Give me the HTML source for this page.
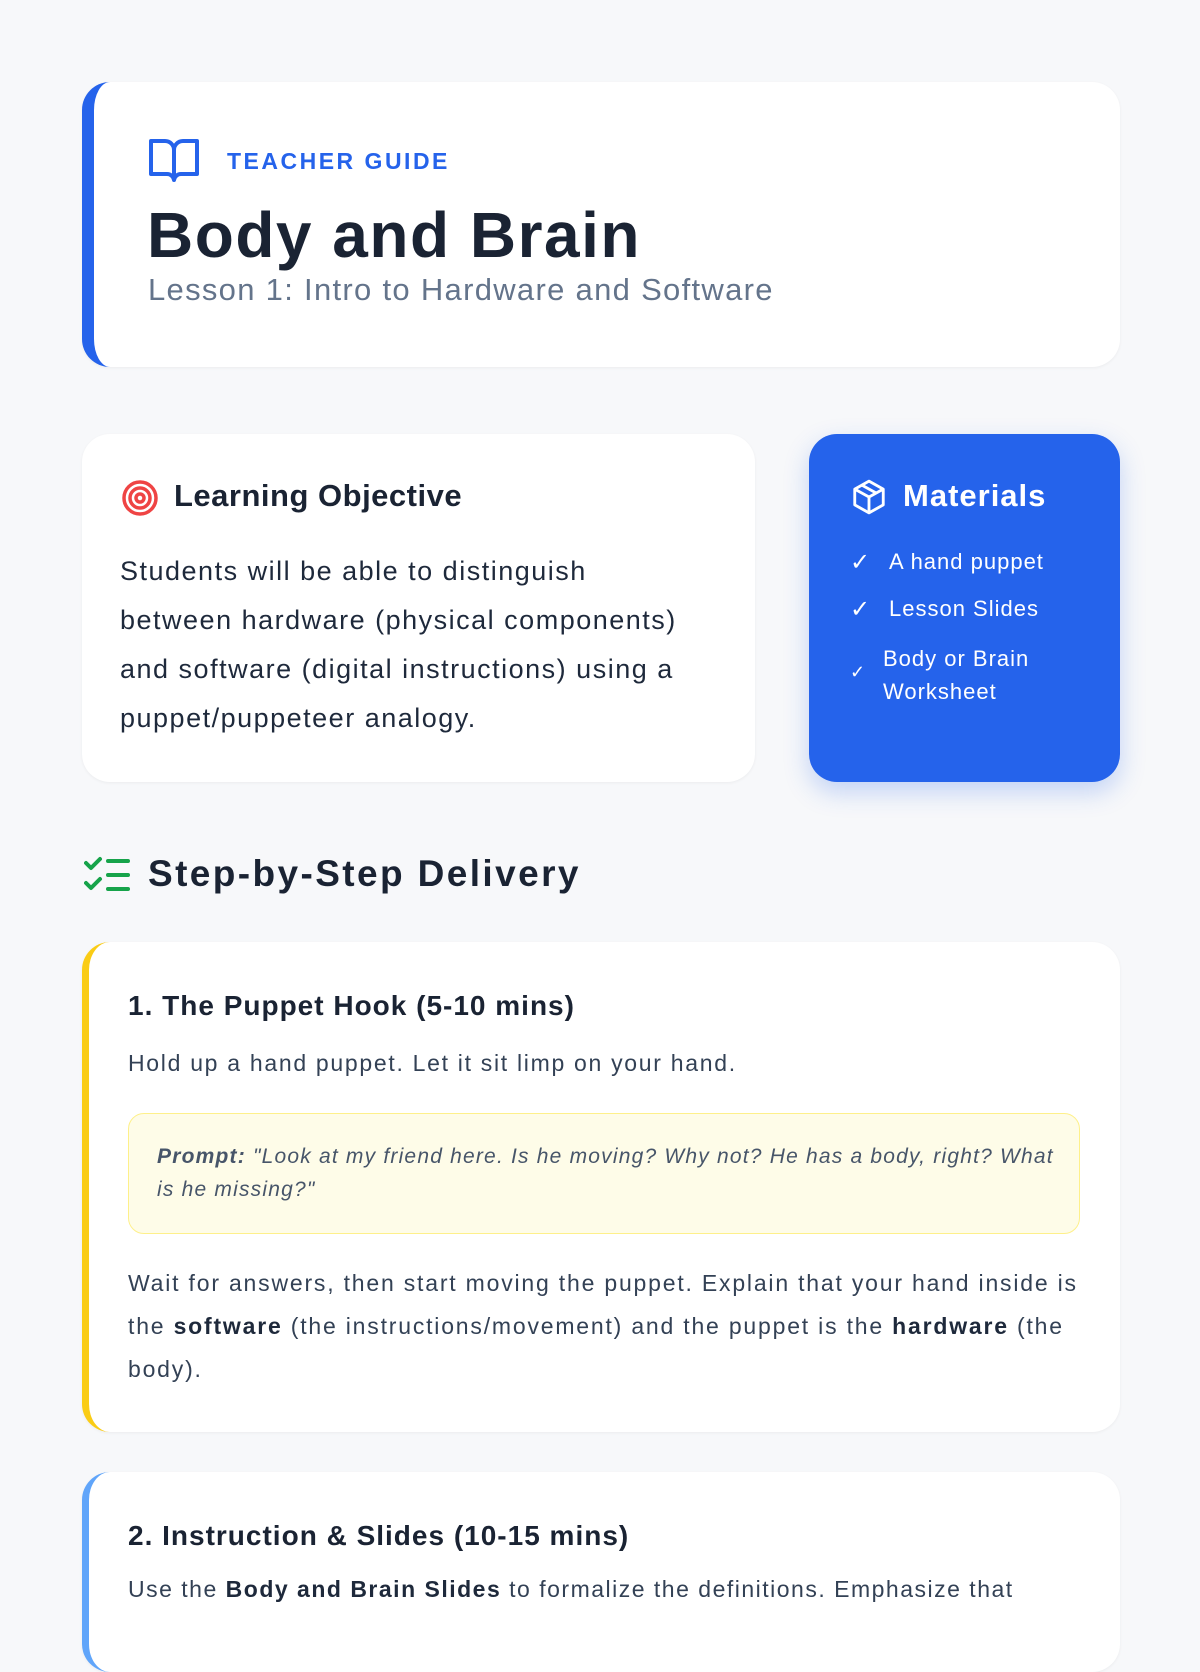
<!DOCTYPE html>
<html><head><meta charset="utf-8"><style>
*{margin:0;padding:0;box-sizing:border-box}
body{width:1200px;height:1600px;background:#f7f8fa;font-family:"Liberation Sans",sans-serif;position:relative;overflow:hidden;color:#1e293b}
.card{position:absolute;background:#fff;border-radius:28px;box-shadow:0 1px 3px rgba(0,0,0,.05)}
.abs{position:absolute;white-space:nowrap}
</style></head><body>
<div class="card" style="left:82px;top:82px;width:1038px;height:285px;border-left:12px solid #2563eb"></div>
<svg class="abs" style="left:148px;top:138px" width="52" height="46" viewBox="0 0 52 46" fill="none" stroke="#2563eb" stroke-width="4" stroke-linejoin="round"><path d="M3 3h14a9 9 0 0 1 9 9v30a7 7 0 0 0-7-6H3z M49 3H35a9 9 0 0 0-9 9v30a7 7 0 0 1 7-6h16z"/></svg>
<div class="abs" style="left:227px;top:148px;font-size:23px;font-weight:bold;letter-spacing:2.5px;color:#2563eb">TEACHER GUIDE</div>
<div class="abs" style="left:147px;top:198px;font-size:64px;font-weight:900;color:#1a2333;letter-spacing:1.5px">Body and Brain</div>
<div class="abs" style="left:148px;top:272px;font-size:31px;color:#64748b;letter-spacing:1.3px">Lesson 1: Intro to Hardware and Software</div>

<div class="card" style="left:82px;top:434px;width:673px;height:348px"></div>
<svg class="abs" style="left:121px;top:479px" width="38" height="38" viewBox="0 0 38 38" fill="none" stroke="#ef4444" stroke-width="3.5"><circle cx="19" cy="19" r="16"/><circle cx="19" cy="19" r="10"/><circle cx="19" cy="19" r="4"/></svg>
<div class="abs" style="left:174px;top:478px;font-size:31px;font-weight:bold;color:#1a2333;letter-spacing:0.5px">Learning Objective</div>
<div class="abs" style="left:120px;top:547px;font-size:27px;line-height:49px;color:#1e293b;letter-spacing:1.5px">Students will be able to distinguish<br>between hardware (physical components)<br>and software (digital instructions) using a<br>puppet/puppeteer analogy.</div>

<div class="card" style="left:809px;top:434px;width:311px;height:348px;background:#2563eb;box-shadow:0 10px 25px rgba(37,99,235,.25)"></div>
<svg class="abs" style="left:850px;top:478px" width="38" height="38" viewBox="0 0 24 24" fill="none" stroke="#fff" stroke-width="1.8" stroke-linejoin="round"><path d="M12 2l9 5v10l-9 5-9-5V7z M3 7l9 5 9-5 M12 12v10 M7.5 4.5l9 5"/></svg>
<div class="abs" style="left:903px;top:478px;font-size:31px;font-weight:bold;color:#fff;letter-spacing:1px">Materials</div>
<div class="abs" style="left:850px;top:548px;font-size:24px;color:#fff">✓</div>
<div class="abs" style="left:889px;top:549px;font-size:22px;color:#fff;letter-spacing:1px">A hand puppet</div>
<div class="abs" style="left:850px;top:595px;font-size:24px;color:#fff">✓</div>
<div class="abs" style="left:889px;top:596px;font-size:22px;color:#fff;letter-spacing:1px">Lesson Slides</div>
<div class="abs" style="left:850px;top:662px;font-size:18px;color:#fff">✓</div>
<div class="abs" style="left:883px;top:642px;font-size:22px;line-height:33px;color:#fff;letter-spacing:1px">Body or Brain<br>Worksheet</div>

<svg class="abs" style="left:84px;top:856px" width="46" height="38" viewBox="0 0 46 38" fill="none" stroke="#16a34a" stroke-width="4" stroke-linecap="round" stroke-linejoin="round"><path d="M2 7l5 5 9-9 M2 27l5 5 9-9 M24 5h20 M24 19h20 M24 33h20"/></svg>
<div class="abs" style="left:148px;top:853px;font-size:37px;font-weight:bold;color:#1a2333;letter-spacing:2.4px">Step-by-Step Delivery</div>

<div class="card" style="left:82px;top:942px;width:1038px;height:490px;border-left:7px solid #facc15"></div>
<div class="abs" style="left:128px;top:990px;font-size:28px;font-weight:bold;color:#1a2333;letter-spacing:1px">1. The Puppet Hook (5-10 mins)</div>
<div class="abs" style="left:128px;top:1050px;font-size:23px;color:#334155;letter-spacing:1.7px">Hold up a hand puppet. Let it sit limp on your hand.</div>
<div class="abs" style="left:128px;top:1113px;width:952px;height:121px;background:#fefce8;border:1px solid #fef08a;border-radius:16px"></div>
<div class="abs" style="left:157px;top:1140px;font-size:21px;line-height:33px;font-style:italic;color:#475569;letter-spacing:1.2px"><b>Prompt:</b> "Look at my friend here. Is he moving? Why not? He has a body, right? What<br>is he missing?"</div>
<div class="abs" style="left:128px;top:1262px;font-size:23px;line-height:43px;color:#334155;letter-spacing:1.8px">Wait for answers, then start moving the puppet. Explain that your hand inside is<br>the <b style="color:#1e293b">software</b> (the instructions/movement) and the puppet is the <b style="color:#1e293b">hardware</b> (the<br>body).</div>

<div class="card" style="left:82px;top:1472px;width:1038px;height:200px;border-left:7px solid #60a5fa"></div>
<div class="abs" style="left:128px;top:1520px;font-size:28px;font-weight:bold;color:#1a2333;letter-spacing:1px">2. Instruction &amp; Slides (10-15 mins)</div>
<div class="abs" style="left:128px;top:1576px;font-size:23px;color:#334155;letter-spacing:1.5px">Use the <b style="color:#1e293b">Body and Brain Slides</b> to formalize the definitions. Emphasize that</div>
</body></html>
